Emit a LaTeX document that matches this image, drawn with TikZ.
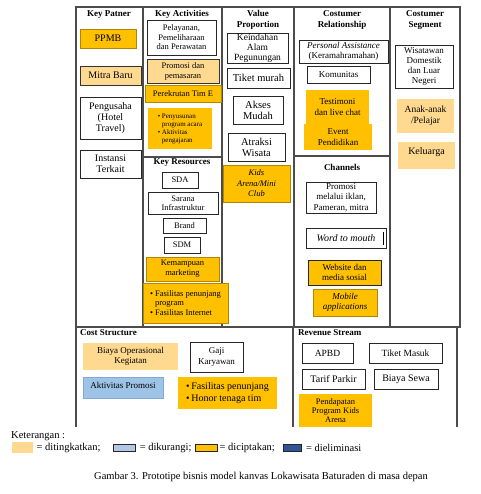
\documentclass[tikz,border=0pt]{standalone}
\usepackage{fontspec}
\setmainfont{Liberation Serif}
\usetikzlibrary{positioning}
\definecolor{gold}{HTML}{FFC000}
\definecolor{peach}{HTML}{FFD98F}
\definecolor{sky}{HTML}{9DC3E6}
\definecolor{skyline}{HTML}{7FA9D9}
\definecolor{paleblue}{HTML}{B4C7E7}
\definecolor{navy}{HTML}{2F5597}
\newcommand{\fsz}[2]{\fontsize{#1}{#2}\selectfont}
\newcommand{\bl}{\textbullet\ }
\newcommand{\nobl}{\phantom{\textbullet\ }}
\tikzset{
	frame/.style={draw=black!70,line width=1.3pt},
	head/.style={font=\bfseries\fsz{9}{10.5},align=center,inner sep=0pt},
	box/.style={draw=black!85,line width=.8pt,fill=white,align=center,inner sep=1pt,font=\fsz{9}{10.5}},
	gbox/.style={box,fill=gold,draw=gold!70!black},
	pbox/.style={box,fill=peach,draw=none},
	sz/.style 2 args={minimum width=#1pt,minimum height=#2pt},
	swatch/.style={draw=black!85,line width=.8pt,inner sep=0pt,minimum width=22pt,minimum height=7pt},
	legtext/.style={inner sep=0pt,font=\fsz{10.5}{12}}
}

\begin{document}
\begin{tikzpicture}[x=1pt,y=-1pt]
	\useasboundingbox (0,0) rectangle (480,494);
	% canvas frame
	\draw[frame] (76,427) -- (76,7) -- (460,7) -- (460,327) -- (76,327);
	\foreach \x in {143,222,294,390} {
		\draw[frame] (\x,7) -- (\x,327);
	}
	\draw[frame] (143,157) -- (222,157);
	\draw[frame] (294,156) -- (390,156);
	\draw[frame] (293,327) -- (293,427);
	\draw[frame] (457,327) -- (457,427);
	% headings
	\node[head] (kp) at (109,14.5) {Key Patner};
	\node[head] (ka) at (182,14.5) {Key Activities};
	\node[head] (vp) at (258,20) {Value\\Proportion};
	\node[head] (cr) at (342,20) {Costumer\\Relationship};
	\node[head] (cs) at (425,20) {Costumer\\Segment};
	\node[head] (kr) at (182,163) {Key Resources};
	\node[head] (ch) at (342,167) {Channels};
	\node[head,anchor=west] (cost) at (80,333) {Cost Structure};
	\node[head,anchor=west] (rev) at (298,333) {Revenue Stream};
	% key patner
	\node[gbox,sz={56}{19},font=\fsz{10}{11}] (ppmb) at (108,38.5) {PPMB};
	\node[pbox,draw=black!80,sz={61}{19},font=\fsz{10}{11}] (mitra) at (110.5,75.5) {Mitra Baru};
	\node[box,sz={61}{42},font=\fsz{10}{11}] (usaha) at (110.5,118) {Pengusaha\\(Hotel\\Travel)};
	\node[box,sz={61}{28},font=\fsz{10}{11}] (instansi) at (110.5,164) {Instansi\\Terkait};
	% key activities
	\node[box,sz={69}{35},font=\fsz{8.5}{9.5}] (layan) at (181.5,37.5) {Pelayanan,\\Pemeliharaan\\dan Perawatan};
	\node[pbox,draw=black!80,sz={72}{24},font=\fsz{8.5}{10}] (promo) at (183,71) {Promosi dan\\pemasaran};
	\node[gbox,sz={76}{17},font=\fsz{8.5}{10}] (rekrut) at (183,93.5) {Perekrutan Tim E};
	\node[gbox,draw=none,sz={64}{41},align=left,font=\fsz{7}{8}] (acara) at (180,128.5) {\bl Penyusunan\\\nobl program acara\\\bl Aktivitas\\\nobl pengajaran};
	% key resources
	\node[box,sz={36}{16},font=\fsz{8.5}{10}] (sda) at (180,180) {SDA};
	\node[box,sz={70}{22},font=\fsz{8.5}{9.5}] (sarana) at (183,203) {Sarana\\Infrastruktur};
	\node[box,sz={43}{15},font=\fsz{8.5}{10}] (brand) at (184.5,225.5) {Brand};
	\node[box,sz={36}{16},font=\fsz{8.5}{10}] (sdm) at (182,245) {SDM};
	\node[gbox,sz={73}{24},font=\fsz{8.5}{10}] (mampu) at (182.5,269) {Kemampuan\\marketing};
	\node[gbox,sz={85}{40},align=left,font=\fsz{8.5}{9.5}] (fasil) at (185.5,303) {\bl Fasilitas penunjang\\\nobl program\\\bl Fasilitas Internet};
	% value proportion
	\node[box,sz={61}{30},inner sep=0pt,font=\fsz{9.5}{10}] (indah) at (257.5,48) {Keindahan\\Alam\\Pegunungan};
	\node[box,sz={63}{20},font=\fsz{10.5}{11}] (tiket) at (258.5,78) {Tiket murah};
	\node[box,sz={50}{28},font=\fsz{10.5}{11}] (akses) at (258,110) {Akses\\Mudah};
	\node[box,sz={57}{28},font=\fsz{10.5}{11}] (atraksi) at (256.5,147) {Atraksi\\Wisata};
	\node[gbox,sz={67}{37},font=\itshape\fsz{8.5}{10.5}] (kids) at (256.5,183.5) {Kids\\Arena/Mini\\Club};
	% costumer relationship
	\node[box,sz={89}{23},font=\fsz{9}{10.5}] (personal) at (343.5,51.5) {\textit{Personal Assistance}\\(Keramahramahan)};
	\node[box,sz={63}{17},font=\fsz{9}{10}] (komunitas) at (338.5,74.5) {Komunitas};
	\node[gbox,draw=none,sz={63}{34},font=\fsz{9}{11}] (testi) at (337.5,107) {Testimoni\\dan live chat};
	\node[gbox,draw=none,sz={68}{26},font=\fsz{9}{11}] (event) at (338,137) {Event\\Pendidikan};
	% channels
	\node[box,sz={70}{31},font=\fsz{9}{10.5}] (iklan) at (341,197.5) {Promosi\\melalui iklan,\\Pameran, mitra};
	\node[box,sz={80}{20},font=\itshape\fsz{10}{11}] (wom) at (346,238) {Word to mouth};
	\draw[line width=.8pt] ([xshift=-3pt,yshift=-4pt]wom.north east) -- ([xshift=-3pt,yshift=3pt]wom.south east);
	\node[gbox,draw=black!85,sz={73}{25},font=\fsz{9}{10.5}] (web) at (344.5,272.5) {Website dan\\media sosial};
	\node[gbox,sz={64}{27},font=\itshape\fsz{9}{10.5}] (mobile) at (345,302.5) {Mobile\\applications};
	% costumer segment
	\node[box,sz={58}{43},font=\fsz{9}{10}] (wisatawan) at (424,66.5) {Wisatawan\\Domestik\\dan Luar\\Negeri};
	\node[pbox,sz={57}{34},font=\fsz{9.5}{11}] (anak) at (425.5,116) {Anak-anak\\/Pelajar};
	\node[pbox,sz={57}{27},font=\fsz{10}{11},text depth=9pt] (keluarga) at (426.5,155.5) {Keluarga};
	% cost structure
	\node[pbox,sz={95}{27},font=\fsz{9}{10.5}] (opr) at (130.5,356.5) {Biaya Operasional\\Kegiatan};
	\node[box,sz={53}{30},font=\fsz{9}{10.5}] (gaji) at (216.5,357) {Gaji\\Karyawan};
	\node[box,fill=sky,draw=skyline,sz={80}{21},font=\fsz{9}{10},text depth=5pt] (aktivitas) at (123,387.5) {Aktivitas Promosi};
	\node[gbox,draw=none,sz={99}{32},align=left,font=\fsz{10}{12}] (honor) at (227.5,393) {\textbullet\,Fasilitas penunjang\\\textbullet\,Honor tenaga tim};
	% revenue stream
	\node[box,sz={51}{20},font=\fsz{9.5}{11}] (apbd) at (327.5,353) {APBD};
	\node[box,sz={73}{20},font=\fsz{9.5}{11}] (masuk) at (405.5,353) {Tiket Masuk};
	\node[box,sz={63}{20},font=\fsz{10}{11}] (parkir) at (333.5,379) {Tarif Parkir};
	\node[box,sz={64}{20},font=\fsz{10}{11}] (sewa) at (406,379) {Biaya Sewa};
	\node[gbox,draw=none,sz={73}{33},font=\fsz{8.5}{9}] (pendapatan) at (335.5,410.5) {Pendapatan\\Program Kids\\Arena};
	% keterangan
	\node[legtext,anchor=west] (ket) at (11,436) {Keterangan :};
	\node[swatch,fill=peach,draw=none,minimum width=21pt,minimum height=11pt] (sw1) at (22.5,447.5) {};
	\node[legtext,right=3pt of sw1] (t1) {= ditingkatkan;};
	\node[swatch,fill=paleblue,right=12pt of t1] (sw2) {};
	\node[legtext,right=4pt of sw2] (t2) {= dikurangi;};
	\node[swatch,fill=gold,right=3pt of t2] (sw3) {};
	\node[legtext,right=2pt of sw3] (t3) {= diciptakan;};
	\node[swatch,fill=navy,minimum width=18pt,right=8pt of t3] (sw4) {};
	\node[legtext,right=4pt of sw4] (t4) {= dieliminasi};
	\node[legtext] (caption) at (261,477) {Gambar 3. Prototipe bisnis model kanvas Lokawisata Baturaden di masa depan};
\end{tikzpicture}
\end{document}
